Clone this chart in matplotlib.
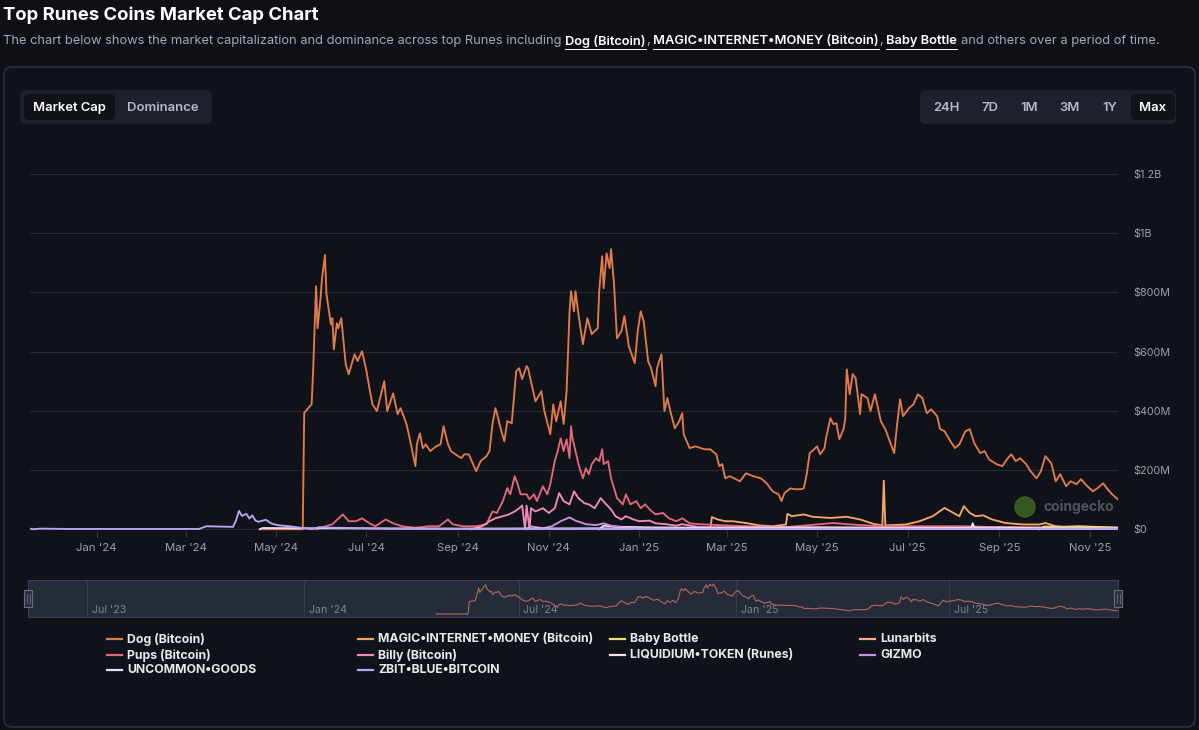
import pandas as pd
import matplotlib
matplotlib.use("Agg")
import matplotlib.pyplot as plt
import matplotlib.dates as mdates
from matplotlib.patches import FancyBboxPatch, Rectangle, Circle
from matplotlib.lines import Line2D
from matplotlib.transforms import IdentityTransform

plt.rcParams["font.family"] = ["Inter", "DejaVu Sans"]

# market cap in $M
dog = [("2024-04-22", 0), ("2024-05-19", 0), ("2024-05-20", 393), ("2024-05-25", 422), ("2024-05-26", 534),
       ("2024-05-28", 821), ("2024-05-29", 679), ("2024-05-31", 780), ("2024-06-01", 848), ("2024-06-03", 926),
       ("2024-06-04", 794), ("2024-06-07", 692), ("2024-06-08", 713), ("2024-06-09", 608), ("2024-06-11", 696),
       ("2024-06-12", 679), ("2024-06-14", 713), ("2024-06-17", 557), ("2024-06-19", 524), ("2024-06-23", 591),
       ("2024-06-25", 568), ("2024-06-28", 601), ("2024-07-01", 534), ("2024-07-03", 476), ("2024-07-05", 422),
       ("2024-07-08", 399), ("2024-07-13", 500), ("2024-07-15", 399), ("2024-07-19", 459), ("2024-07-22", 389),
       ("2024-07-24", 409), ("2024-07-28", 355), ("2024-07-31", 287), ("2024-08-03", 213), ("2024-08-04", 287),
       ("2024-08-06", 324), ("2024-08-08", 274), ("2024-08-10", 287), ("2024-08-13", 264), ("2024-08-17", 280),
       ("2024-08-20", 287), ("2024-08-22", 348), ("2024-08-25", 287), ("2024-08-27", 264), ("2024-08-30", 253),
       ("2024-09-03", 240), ("2024-09-05", 253), ("2024-09-08", 253), ("2024-09-10", 230), ("2024-09-13", 196),
       ("2024-09-16", 230), ("2024-09-20", 247), ("2024-09-22", 264), ("2024-09-24", 355), ("2024-09-26", 409),
       ("2024-09-27", 392), ("2024-09-30", 331), ("2024-10-02", 297), ("2024-10-04", 365), ("2024-10-07", 358),
       ("2024-10-10", 534), ("2024-10-12", 544), ("2024-10-14", 507), ("2024-10-17", 551), ("2024-10-18", 544),
       ("2024-10-21", 476), ("2024-10-23", 432), ("2024-10-27", 466), ("2024-10-29", 399), ("2024-11-02", 321),
       ("2024-11-04", 422), ("2024-11-06", 365), ("2024-11-09", 432), ("2024-11-11", 355), ("2024-11-13", 466),
       ("2024-11-15", 736), ("2024-11-16", 804), ("2024-11-18", 736), ("2024-11-19", 804), ("2024-11-21", 726),
       ("2024-11-24", 625), ("2024-11-27", 713), ("2024-11-30", 659), ("2024-12-04", 679), ("2024-12-05", 804),
       ("2024-12-07", 922), ("2024-12-08", 814), ("2024-12-10", 932), ("2024-12-12", 882), ("2024-12-13", 946),
       ("2024-12-15", 828), ("2024-12-17", 645), ("2024-12-20", 669), ("2024-12-22", 720), ("2024-12-25", 618),
       ("2024-12-29", 561), ("2024-12-31", 669), ("2025-01-02", 736), ("2025-01-04", 703), ("2025-01-07", 568),
       ("2025-01-09", 544), ("2025-01-12", 483), ("2025-01-13", 544), ("2025-01-16", 591), ("2025-01-18", 399),
       ("2025-01-20", 443), ("2025-01-22", 399), ("2025-01-25", 341), ("2025-01-28", 365), ("2025-01-30", 392),
       ("2025-01-31", 321), ("2025-02-04", 274), ("2025-02-08", 280), ("2025-02-14", 270), ("2025-02-18", 270),
       ("2025-02-22", 253), ("2025-02-24", 213), ("2025-02-26", 220), ("2025-02-28", 172), ("2025-03-03", 179),
       ("2025-03-06", 172), ("2025-03-10", 162), ("2025-03-14", 189), ("2025-03-19", 179), ("2025-03-24", 172),
       ("2025-03-28", 155), ("2025-04-01", 128), ("2025-04-05", 118), ("2025-04-07", 95), ("2025-04-09", 122),
       ("2025-04-13", 138), ("2025-04-16", 135), ("2025-04-20", 135), ("2025-04-22", 138), ("2025-04-24", 186),
       ("2025-04-26", 257), ("2025-04-29", 270), ("2025-05-01", 280), ("2025-05-03", 253), ("2025-05-06", 274),
       ("2025-05-07", 307), ("2025-05-10", 375), ("2025-05-12", 355), ("2025-05-14", 358), ("2025-05-16", 304),
       ("2025-05-19", 341), ("2025-05-20", 375), ("2025-05-21", 540), ("2025-05-23", 456), ("2025-05-25", 524),
       ("2025-05-27", 510), ("2025-05-30", 389), ("2025-05-31", 456), ("2025-06-04", 443), ("2025-06-06", 399),
       ("2025-06-09", 456), ("2025-06-13", 365), ("2025-06-16", 338), ("2025-06-19", 297), ("2025-06-22", 257),
       ("2025-06-24", 355), ("2025-06-26", 439), ("2025-06-28", 382), ("2025-07-02", 409), ("2025-07-05", 422),
       ("2025-07-08", 456), ("2025-07-11", 443), ("2025-07-14", 392), ("2025-07-17", 405), ("2025-07-21", 382),
       ("2025-07-23", 338), ("2025-07-26", 331), ("2025-07-30", 297), ("2025-08-02", 274), ("2025-08-05", 287),
       ("2025-08-09", 331), ("2025-08-12", 338), ("2025-08-15", 291), ("2025-08-19", 257), ("2025-08-22", 264),
       ("2025-08-25", 236), ("2025-08-30", 220), ("2025-09-03", 213), ("2025-09-06", 236), ("2025-09-09", 253),
       ("2025-09-12", 230), ("2025-09-15", 240), ("2025-09-19", 220), ("2025-09-22", 196), ("2025-09-26", 172),
       ("2025-09-29", 196), ("2025-10-02", 247), ("2025-10-06", 223), ("2025-10-09", 162), ("2025-10-12", 186),
       ("2025-10-16", 145), ("2025-10-19", 162), ("2025-10-23", 152), ("2025-10-26", 169), ("2025-10-29", 152),
       ("2025-11-03", 128), ("2025-11-06", 138), ("2025-11-10", 155), ("2025-11-13", 135), ("2025-11-16", 118),
       ("2025-11-20", 101)]

magic = [("2025-02-18", 1), ("2025-02-19", 41), ("2025-02-23", 33), ("2025-02-28", 27), ("2025-03-05", 27),
         ("2025-03-14", 21), ("2025-03-23", 13), ("2025-04-01", 10), ("2025-04-10", 16), ("2025-04-11", 52),
         ("2025-04-14", 44), ("2025-04-22", 50), ("2025-04-28", 42), ("2025-05-10", 38), ("2025-05-21", 42),
         ("2025-05-30", 33), ("2025-06-08", 18), ("2025-06-14", 13), ("2025-06-15", 164), ("2025-06-16", 13),
         ("2025-06-30", 16), ("2025-07-09", 27), ("2025-07-18", 44), ("2025-07-26", 72), ("2025-08-01", 55),
         ("2025-08-05", 44), ("2025-08-08", 78), ("2025-08-12", 55), ("2025-08-16", 44), ("2025-08-21", 47),
         ("2025-08-27", 33), ("2025-09-05", 21), ("2025-09-17", 16), ("2025-09-28", 16), ("2025-10-02", 21),
         ("2025-10-09", 10), ("2025-10-25", 4), ("2025-11-20", 2)]

baby_bottle = [("2025-09-28", 0), ("2025-10-01", 9), ("2025-10-12", 8), ("2025-10-25", 10), ("2025-11-05", 8),
               ("2025-11-20", 6)]

lunarbits = [("2025-03-01", 0), ("2025-03-05", 4), ("2025-05-01", 6), ("2025-07-01", 5), ("2025-09-01", 7),
             ("2025-10-15", 5), ("2025-11-20", 4)]

pups = [("2024-05-28", 0), ("2024-06-08", 17), ("2024-06-15", 50), ("2024-06-19", 27), ("2024-06-24", 27),
        ("2024-06-28", 37), ("2024-07-03", 20), ("2024-07-07", 10), ("2024-07-12", 27), ("2024-07-14", 33),
        ("2024-07-19", 20), ("2024-07-25", 10), ("2024-08-03", 5), ("2024-08-12", 10), ("2024-08-19", 10),
        ("2024-08-25", 33), ("2024-08-28", 17), ("2024-09-04", 10), ("2024-09-13", 10), ("2024-09-20", 17),
        ("2024-09-24", 60), ("2024-09-27", 55), ("2024-10-01", 95), ("2024-10-04", 139), ("2024-10-06", 118),
        ("2024-10-09", 179), ("2024-10-11", 152), ("2024-10-13", 118), ("2024-10-17", 118), ("2024-10-19", 101),
        ("2024-10-22", 118), ("2024-10-24", 95), ("2024-10-28", 145), ("2024-10-31", 118), ("2024-11-02", 152),
        ("2024-11-05", 230), ("2024-11-07", 264), ("2024-11-09", 307), ("2024-11-11", 264), ("2024-11-13", 304),
        ("2024-11-15", 240), ("2024-11-16", 348), ("2024-11-17", 307), ("2024-11-19", 264), ("2024-11-21", 220),
        ("2024-11-24", 172), ("2024-11-26", 206), ("2024-11-28", 186), ("2024-11-30", 220), ("2024-12-03", 240),
        ("2024-12-05", 230), ("2024-12-07", 270), ("2024-12-08", 220), ("2024-12-11", 230), ("2024-12-13", 172),
        ("2024-12-15", 139), ("2024-12-17", 105), ("2024-12-21", 84), ("2024-12-23", 118), ("2024-12-26", 84),
        ("2024-12-30", 95), ("2025-01-02", 71), ("2025-01-05", 84), ("2025-01-08", 67), ("2025-01-12", 50),
        ("2025-01-17", 55), ("2025-01-21", 37), ("2025-01-26", 27), ("2025-01-30", 37), ("2025-02-04", 20),
        ("2025-02-10", 17), ("2025-03-14", 10), ("2025-04-10", 7), ("2025-05-12", 21), ("2025-05-21", 17),
        ("2025-06-13", 10), ("2025-07-05", 10), ("2025-08-08", 10), ("2025-09-10", 5), ("2025-11-20", 3)]

billy = [("2024-09-10", 0), ("2024-09-17", 10), ("2024-09-22", 27), ("2024-09-26", 37), ("2024-10-01", 44),
         ("2024-10-05", 50), ("2024-10-09", 60), ("2024-10-12", 71), ("2024-10-14", 80), ("2024-10-16", 0),
         ("2024-10-17", 80), ("2024-10-19", 0), ("2024-10-20", 71), ("2024-10-23", 60), ("2024-10-28", 71),
         ("2024-11-01", 55), ("2024-11-05", 71), ("2024-11-08", 122), ("2024-11-11", 95), ("2024-11-15", 84),
         ("2024-11-18", 128), ("2024-11-21", 105), ("2024-11-25", 88), ("2024-11-28", 84), ("2024-12-02", 71),
         ("2024-12-06", 105), ("2024-12-09", 88), ("2024-12-13", 67), ("2024-12-16", 44), ("2024-12-20", 33),
         ("2024-12-23", 44), ("2024-12-28", 33), ("2025-01-01", 27), ("2025-01-08", 29), ("2025-01-12", 20),
         ("2025-01-19", 17), ("2025-01-26", 12), ("2025-01-30", 17), ("2025-02-10", 7), ("2025-04-15", 5),
         ("2025-06-15", 4), ("2025-08-15", 3), ("2025-11-20", 2)]

liquidium = [("2024-12-05", 0), ("2024-12-08", 12), ("2024-12-20", 8), ("2025-01-10", 6), ("2025-02-15", 5),
             ("2025-04-15", 6), ("2025-06-01", 5), ("2025-08-13", 5), ("2025-08-14", 20), ("2025-08-15", 6),
             ("2025-09-20", 4), ("2025-11-20", 3)]

gizmo = [("2024-10-17", 0), ("2024-10-20", 10), ("2024-10-28", 3), ("2024-11-03", 10), ("2024-11-09", 27),
         ("2024-11-15", 40), ("2024-11-19", 29), ("2024-11-26", 17), ("2024-12-03", 14), ("2024-12-08", 20),
         ("2024-12-14", 10), ("2024-12-23", 5), ("2025-01-08", 3), ("2025-02-10", 2), ("2025-06-01", 2),
         ("2025-11-20", 1)]

uncommon = [("2024-04-20", 0), ("2024-04-22", 4), ("2024-06-01", 3), ("2024-09-01", 2), ("2024-12-01", 3),
            ("2025-03-01", 2), ("2025-07-01", 2), ("2025-11-20", 1)]

zbit = [("2023-11-17", 2), ("2023-11-19", 0), ("2023-11-24", 2), ("2023-12-12", 1), ("2024-01-03", 1),
        ("2024-01-25", 1), ("2024-02-17", 1), ("2024-03-10", 1), ("2024-03-15", 10), ("2024-04-02", 8),
        ("2024-04-04", 30), ("2024-04-06", 62), ("2024-04-08", 45), ("2024-04-11", 52), ("2024-04-13", 36),
        ("2024-04-15", 47), ("2024-04-17", 30), ("2024-04-19", 25), ("2024-04-24", 32), ("2024-04-28", 19),
        ("2024-05-03", 13), ("2024-05-10", 10), ("2024-05-16", 6), ("2024-05-25", 0), ("2024-05-30", 7),
        ("2024-06-08", 5), ("2024-07-15", 2), ("2024-09-15", 1), ("2025-01-01", 1), ("2025-11-20", 1)]

series_names = ["Dog (Bitcoin)", "MAGIC•INTERNET•MONEY (Bitcoin)", "Baby Bottle", "Lunarbits",
                "Pups (Bitcoin)", "Billy (Bitcoin)", "LIQUIDIUM•TOKEN (Runes)", "GIZMO",
                "UNCOMMON•GOODS", "ZBIT•BLUE•BITCOIN"]
series_data = [dog, magic, baby_bottle, lunarbits, pups, billy, liquidium, gizmo, uncommon, zbit]
series_colors = ["#e07b4c", "#f2a862", "#ede073", "#f3b08e", "#e2677a", "#f08cb6", "#fbe0ee",
                 "#c98fdf", "#e9dcfd", "#b9a6f2"]

y_ticks = [0, 200e6, 400e6, 600e6, 800e6, 1000e6, 1200e6]
y_labels = ["$0", "$200M", "$400M", "$600M", "$800M", "$1B", "$1.2B"]

W, H = 1199, 730
BG = "#0e1016"
GRAY = "#9aa1ad"

fig = plt.figure(figsize=(W / 100, H / 100), dpi=100)
fig.patch.set_facecolor(BG)


def fx(x):
    return x / W


def fy(y):
    return 1 - y / H


def rbox(x0, y0, x1, y1, r, fc, ec="none", lw=0, z=1):
    p = FancyBboxPatch((x0, H - y1), x1 - x0, y1 - y0, boxstyle=f"round,pad=0,rounding_size={r}",
                       transform=IdentityTransform(), facecolor=fc, edgecolor=ec, linewidth=lw, zorder=z)
    fig.add_artist(p)


# card and title
rbox(4, 67, 1195, 727, 8, "#0f1219", "#2b303b", 1.2, z=-2)
fig.text(fx(3), fy(15), "Top Runes Coins Market Cap Chart", color="white", fontsize=13.3,
         fontweight="bold", va="center", ha="left")

renderer = fig.canvas.get_renderer()
sub_size = 9.25
sub_parts = [("The chart below shows the market capitalization and dominance across top Runes including", False, 0),
             ("Dog (Bitcoin)", True, 1), (",", False, 0), ("MAGIC•INTERNET•MONEY (Bitcoin)", True, 1),
             (",", False, 0), ("Baby Bottle", True, 1), ("and others over a period of time.", False, 1)]
probe = fig.text(0, 0, "a a", fontsize=sub_size)
probe2 = fig.text(0, 0, "aa", fontsize=sub_size)
space_w = probe.get_window_extent(renderer).width - probe2.get_window_extent(renderer).width
probe.remove()
probe2.remove()
x = 3
for txt, bold, gap in sub_parts:
    x += gap * space_w
    col = "white" if bold else "#a3aab6"
    t = fig.text(fx(x), fy(41), txt, color=col, fontsize=sub_size, fontweight="semibold" if bold else "normal",
                 va="center", ha="left")
    bb = t.get_window_extent(renderer)
    if bold:
        fig.add_artist(Line2D([bb.x0, bb.x1], [H - 49, H - 49], transform=IdentityTransform(),
                              color=col, lw=0.7))
    x = bb.x1

# toggles
rbox(20, 90, 212, 124, 6, "#1d212b")
rbox(24, 94, 115, 120, 5, "#0f1217")
fig.text(fx(69), fy(108), "Market Cap", color="white", fontsize=9.4, fontweight="semibold", ha="center", va="center")
fig.text(fx(163), fy(108), "Dominance", color="#b4bac6", fontsize=9.4, fontweight="semibold", ha="center", va="center")
rbox(920, 90, 1176, 124, 6, "#1d212b")
rbox(1131, 94, 1175, 120, 5, "#0f1217")
for lab, xc in zip(["24H", "7D", "1M", "3M", "1Y", "Max"], [946, 990, 1029, 1070, 1110, 1153]):
    fig.text(fx(xc), fy(108), lab, color="white" if lab == "Max" else "#b4bac6", fontsize=9.4,
             fontweight="semibold", ha="center", va="center")

# main chart
ax = fig.add_axes([fx(30), fy(531), (1118 - 30) / W, (531 - 174) / H])
ax.set_facecolor("none")
for name, data, col in zip(series_names, series_data, series_colors):
    d = pd.DataFrame(data, columns=["date", "mcap"])
    ax.plot(pd.to_datetime(d["date"]), d["mcap"] * 1e6, color=col, lw=1.35, solid_joinstyle="round")
ax.set_xlim(pd.Timestamp("2023-11-17"), pd.Timestamp("2025-11-20"))
ax.set_ylim(-6e6, 1.2e9)
ax.set_yticks(y_ticks)
ax.set_yticklabels(y_labels)
ax.yaxis.tick_right()
ax.grid(axis="y", color="#252a34", lw=0.8)
ax.set_axisbelow(True)
xt = pd.date_range("2024-01-01", "2025-11-01", freq="2MS")
ax.set_xticks(xt)
ax.xaxis.set_major_formatter(mdates.DateFormatter("%b '%y"))
ax.tick_params(axis="y", length=0, pad=11, labelcolor=GRAY, labelsize=7.8)
ax.tick_params(axis="x", length=4, width=0.8, color="#333844", pad=4.5, labelcolor=GRAY, labelsize=8.2)
for s in ax.spines.values():
    s.set_visible(False)
for lab in ax.get_yticklabels():
    lab.set_horizontalalignment("left")

# watermark
fig.add_artist(Circle((1025, H - 507), 10, transform=IdentityTransform(), color="#3f6a26", alpha=0.8))
fig.text(fx(1043), fy(507), "coingecko", color="#4e545f", fontsize=10, fontweight="bold", va="center")

# navigator
nav = fig.add_axes([fx(28), fy(617), (1118 - 28) / W, 37 / H])
nav.set_facecolor("#252b39")
dd = pd.DataFrame(dog, columns=["date", "mcap"])
nav.plot(pd.to_datetime(dd["date"]), dd["mcap"] * 1e6, color="#b26a58", lw=0.8)
nav.set_xlim(pd.Timestamp("2023-05-12"), pd.Timestamp("2025-11-21"))
nav.set_ylim(-95e6, 1072e6)
nav_ticks = pd.to_datetime(["2023-07-01", "2024-01-01", "2024-07-01", "2025-01-01", "2025-07-01"])
for t in nav_ticks:
    nav.axvline(t, color="#363d4c", lw=0.8, zorder=0)
    nav.text(t + pd.Timedelta(days=4), 0.2, t.strftime("%b '%y"), transform=nav.get_xaxis_transform(),
             color="#7c8493", fontsize=7.6, va="center", ha="left")
nav.set_xticks([])
nav.set_yticks([])
for s in nav.spines.values():
    s.set_color("#3a4150")
    s.set_linewidth(0.8)
for hx in [28, 1118]:
    fig.add_artist(Rectangle((hx - 4, H - 607), 8, 17, transform=IdentityTransform(), facecolor="#2a3040",
                             edgecolor="#69707e", lw=0.8, zorder=5))
    for dx in [-1.5, 1.5]:
        fig.add_artist(Line2D([hx + dx, hx + dx], [H - 603, H - 594], transform=IdentityTransform(),
                              color="#69707e", lw=0.6, zorder=6))

# legend
col_x = [107, 358, 610, 860]
row_y = [639, 655, 670]
for i, (name, col) in enumerate(zip(series_names, series_colors)):
    cx, ry = col_x[i % 4], row_y[i // 4]
    fig.add_artist(Line2D([cx, cx + 15], [H - ry, H - ry], transform=IdentityTransform(), color=col, lw=1.6))
    fig.text(fx(cx + 20), fy(ry), name, color="#e8eaee", fontsize=8.85, fontweight="bold", va="center", ha="left")

fig.savefig("out.png", dpi=100, facecolor=BG)
